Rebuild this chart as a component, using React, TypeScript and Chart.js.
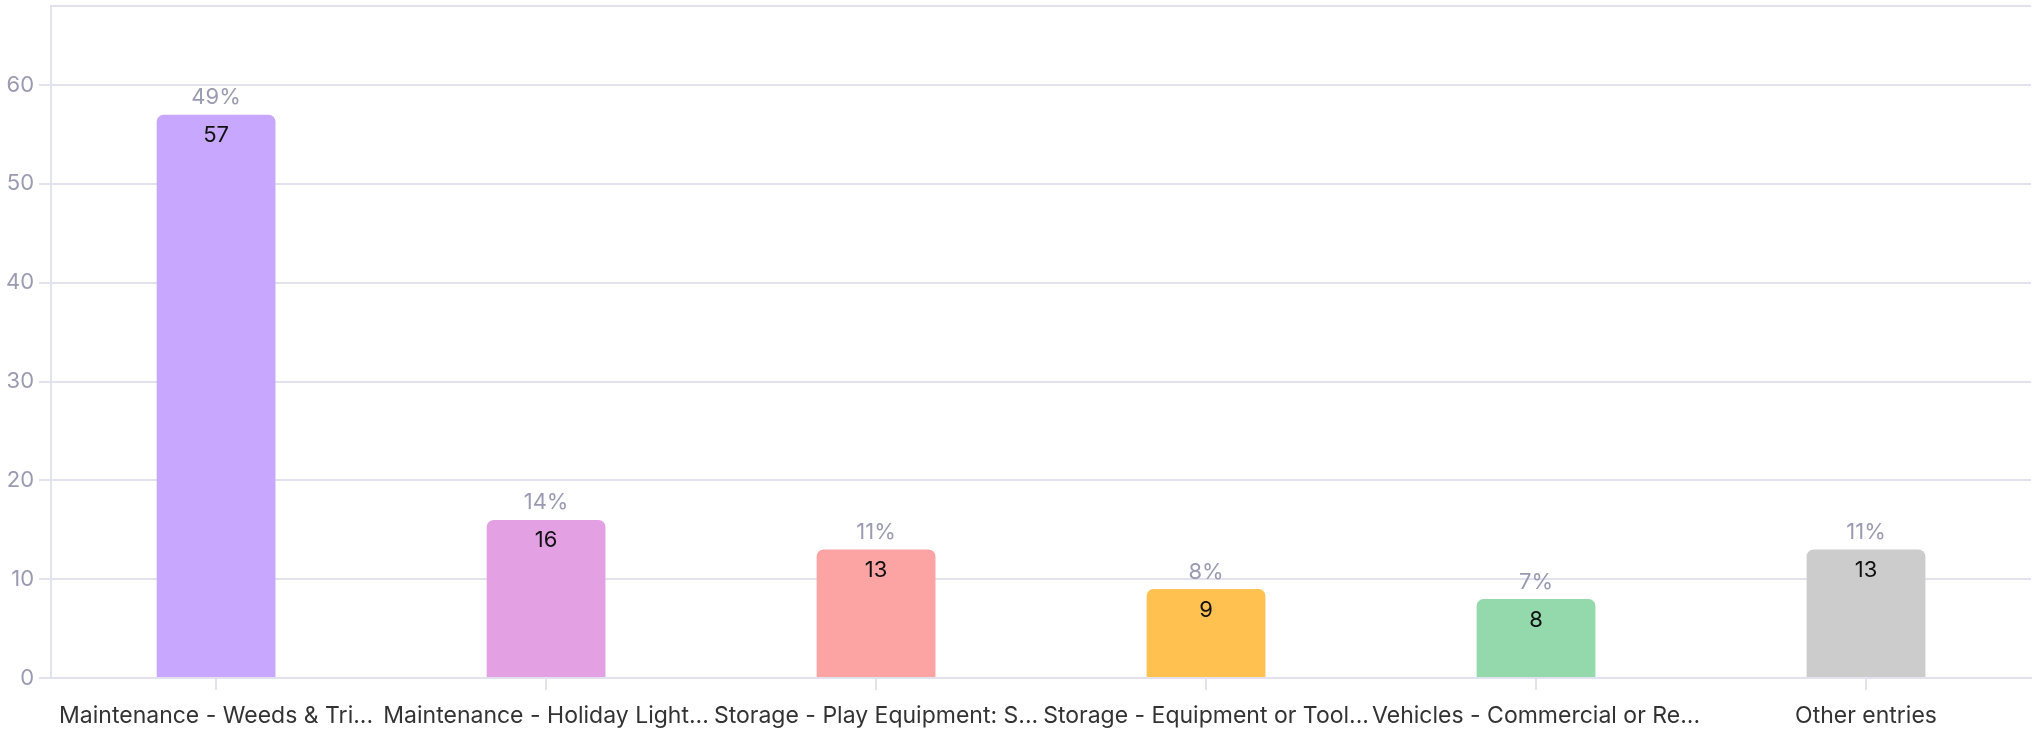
import React, { useEffect, useRef } from "react";
import { Chart, registerables } from "chart.js";

Chart.register(...registerables);

const categories = [
  "Maintenance - Weeds & Tri...",
  "Maintenance - Holiday Light...",
  "Storage - Play Equipment: S...",
  "Storage - Equipment or Tool...",
  "Vehicles - Commercial or Re...",
  "Other entries",
];
const counts = [57, 16, 13, 9, 8, 13];
const percentLabels = ["49%", "14%", "11%", "8%", "7%", "11%"];
const barColors = ["#C7A8FE", "#E3A0E3", "#FCA3A3", "#FFC150", "#93D9AB", "#CCCCCC"];
const yTickValues = [0, 10, 20, 30, 40, 50, 60];
const yMax = 68;

const FONT = "Inter, 'Noto Sans', sans-serif";
const GRID = "#e2e2ee";
const MUTED = "#9a9ab2";

const barLabelPlugin = {
  id: "barLabels",
  afterDatasetsDraw(chart: any) {
    const ctx = chart.ctx;
    const meta = chart.getDatasetMeta(0);
    ctx.save();
    ctx.textAlign = "center";
    meta.data.forEach((bar: any, i: number) => {
      ctx.font = `22px ${FONT}`;
      ctx.fillStyle = MUTED;
      ctx.textBaseline = "bottom";
      ctx.fillText(percentLabels[i], bar.x, bar.y - 6);
      ctx.fillStyle = "#111111";
      ctx.textBaseline = "middle";
      ctx.fillText(String(counts[i]), bar.x, bar.y + 21);
    });
    ctx.restore();
  },
};

export default function App() {
  const canvasRef = useRef<HTMLCanvasElement | null>(null);

  useEffect(() => {
    document.body.style.margin = "0";
    const canvas = canvasRef.current;
    if (!canvas) return;
    const chart = new Chart(canvas, {
      type: "bar",
      data: {
        labels: categories,
        datasets: [
          {
            data: counts,
            backgroundColor: barColors,
            borderRadius: { topLeft: 7, topRight: 7, bottomLeft: 0, bottomRight: 0 },
            borderSkipped: "bottom",
            barPercentage: 0.6,
            categoryPercentage: 0.6,
          },
        ],
      },
      options: {
        animation: false,
        responsive: true,
        maintainAspectRatio: false,
        devicePixelRatio: 1,
        layout: { padding: { top: 6, right: 3, left: 1, bottom: 0 } },
        plugins: {
          legend: { display: false },
          tooltip: { enabled: false },
        },
        scales: {
          x: {
            afterFit: (scale: any) => {
              scale.height = 54;
            },
            grid: {
              display: true,
              drawOnChartArea: false,
              drawTicks: true,
              offset: false,
              tickLength: 12,
              color: GRID,
              lineWidth: 2,
            },
            border: { display: true, color: GRID, width: 2 },
            ticks: {
              color: "#333333",
              font: { family: FONT, size: 23, lineHeight: 1.2 },
              padding: 12,
              maxRotation: 0,
              autoSkip: false,
            },
          },
          y: {
            min: 0,
            max: yMax,
            afterBuildTicks: (scale: any) => {
              scale.ticks = [...yTickValues.map((v) => ({ value: v })), { value: yMax }];
            },
            grid: {
              color: GRID,
              lineWidth: 2,
              tickLength: 12,
              tickColor: (c: any) => (c.tick && c.tick.value === yMax ? "rgba(0,0,0,0)" : GRID),
            },
            border: { display: true, color: GRID, width: 2 },
            ticks: {
              color: MUTED,
              font: (c: any) =>
                c.tick && c.tick.value === yMax ? { family: FONT, size: 1 } : { family: FONT, size: 22 },
              padding: 5,
              callback: (v: any) => (v === yMax ? "" : String(v)),
            },
          },
        },
      },
      plugins: [barLabelPlugin],
    });
    return () => chart.destroy();
  }, []);

  return (
    <div style={{ width: 2034, height: 732, position: "relative" }}>
      <canvas ref={canvasRef} />
    </div>
  );
}
